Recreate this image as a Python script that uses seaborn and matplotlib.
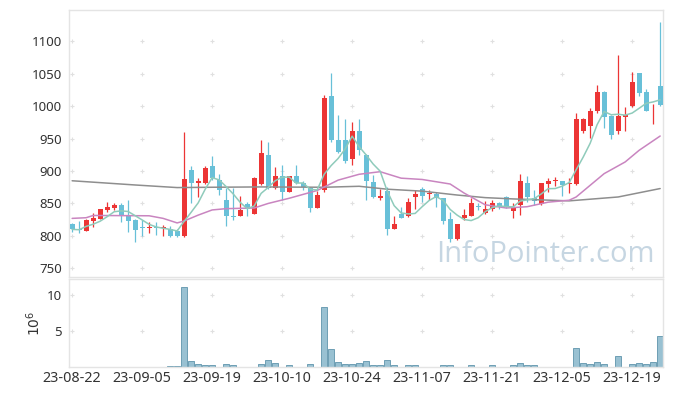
import numpy as np
import pandas as pd
import matplotlib
matplotlib.use("Agg")
import matplotlib.pyplot as plt
import seaborn as sns

# ---------------- data ----------------
opens = [818, 811, 808, 823, 826, 840, 843, 847, 832, 824,
         813, 812, 813, 812, 811, 808, 800, 901, 882, 882,
         907, 886, 856, 831, 831, 849, 834, 880, 925, 874,
         892, 868, 892, 881, 874, 843, 870, 1015, 948, 948,
         919, 962, 925, 883, 858, 869, 811, 834, 830, 860,
         872, 864, 865, 858, 826, 795, 827, 831, 846, 835,
         841, 850, 860, 839, 847, 881, 858, 849, 880, 884,
         884, 880, 880, 961, 970, 992, 1022, 985, 961, 984,
         1001, 1051, 1022, 995, 1031]
highs = [820, 823, 826, 836, 842, 852, 851, 850, 855, 826,
         824, 821, 821, 817, 816, 810, 960, 908, 889, 907,
         923, 895, 874, 874, 861, 853, 891, 948, 945, 906,
         910, 893, 910, 885, 876, 869, 1018, 1051, 986, 981,
         975, 980, 926, 894, 873, 876, 830, 844, 858, 871,
         875, 871, 868, 859, 837, 818, 841, 858, 850, 854,
         856, 852, 861, 850, 895, 892, 871, 882, 889, 891,
         885, 889, 989, 982, 997, 1033, 1023, 986, 1079, 999,
         1052, 1051, 1027, 1004, 1130]
lows = [806, 804, 807, 814, 826, 837, 840, 821, 806, 790,
        800, 804, 801, 800, 799, 798, 799, 851, 860, 880,
        886, 863, 815, 825, 830, 831, 833, 878, 872, 872,
        855, 867, 880, 870, 837, 843, 868, 945, 928, 913,
        910, 925, 855, 858, 856, 801, 810, 827, 829, 842,
        853, 855, 844, 818, 791, 794, 824, 830, 840, 833,
        839, 842, 843, 827, 832, 853, 847, 848, 868, 877,
        861, 866, 879, 959, 951, 990, 966, 950, 957, 962,
        999, 1015, 992, 972, 1000]
closes = [810, 809, 825, 828, 841, 845, 847, 832, 823, 809,
          812, 813, 812, 813, 800, 800, 887, 882, 885, 905,
          890, 870, 830, 829, 840, 841, 890, 928, 874, 892,
          868, 892, 881, 875, 843, 863, 1013, 948, 930, 916,
          962, 932, 884, 860, 861, 810, 818, 828, 852, 865,
          862, 866, 858, 823, 795, 818, 832, 850, 845, 841,
          850, 845, 845, 843, 885, 860, 854, 881, 884, 886,
          878, 882, 980, 981, 993, 1022, 983, 955, 985, 986,
          1038, 1020, 993, 996, 1002]
volume_m = [0.05, 0.1, 0.1, 0.1, 0.1, 0.1, 0.03, 0.1, 0.1, 0.1,
            0.1, 0.03, 0.1, 0.03, 0.2, 0.2, 11.1, 0.87, 0.4, 0.28,
            0.28, 0.1, 0.4, 0.28, 0.1, 0.1, 0.1, 0.4, 0.96, 0.55,
            0.1, 0.28, 0.1, 0.1, 0.4, 0.1, 8.3, 2.5, 0.7, 0.4,
            0.4, 0.55, 0.87, 0.28, 0.28, 0.96, 0.28, 0.1, 0.28, 0.28,
            0.05, 0.05, 0.05, 0.28, 0.28, 0.05, 0.05, 0.28, 0.05, 0.05,
            0.28, 0.05, 0.05, 0.28, 0.55, 0.28, 0.28, 0.05, 0.05, 0.05,
            0.05, 0.05, 2.6, 0.55, 0.4, 0.7, 0.4, 0.05, 1.5, 0.05,
            0.4, 0.55, 0.4, 0.7, 4.3]

# moving averages (candle index, value)
ma20_idx = [0, 2, 3, 11, 13, 15, 16, 18, 20, 22, 26, 28, 31, 35, 38, 41, 44,
            47, 50, 54, 56, 59, 62, 65, 68, 71, 72, 74, 76, 79, 81, 84]
ma20_val = [827, 828, 831.5, 831, 827, 820, 823, 832, 840, 842, 843, 850, 858,
            870, 886, 895, 899, 889, 887, 880, 866, 848, 843, 845, 852, 855,
            860, 878, 896, 914, 932, 954]
ma120_idx = [0, 9, 15, 20, 27, 36, 41, 45, 50, 55, 59, 63, 71, 78, 84]
ma120_val = [885, 878.5, 874.5, 875, 875.5, 875, 876.5, 872, 869, 863, 859,
             857, 854, 860, 873]

tick_labels = ['23-08-22', '23-09-05', '23-09-19', '23-10-10', '23-10-24',
               '23-11-07', '23-11-21', '23-12-05', '23-12-19']
price_ticks = [750, 800, 850, 900, 950, 1000, 1050, 1100]
vol_ticks = [5, 10]

# ---------------- style ----------------
sns.set_theme(style="white")
plt.rcParams['font.family'] = ['Noto Sans', 'DejaVu Sans']

UP = '#EC3535'
DOWN = '#68C0D8'
GRID = '#e0e0e0'
SPINE = '#e4e4e4'
TXT = '#333333'

n = len(closes)
idx = np.arange(n)
df = pd.DataFrame({'i': idx, 'open': opens, 'high': highs, 'low': lows,
                   'close': closes, 'vol': volume_m})
df['ma5'] = df['close'].rolling(5, min_periods=1).mean()
up = df['close'] >= df['open']
colors = np.where(up, UP, DOWN)

fig = plt.figure(figsize=(6.73, 3.96), dpi=100)
ax1 = fig.add_axes([0.1025, 0.3005, 0.8831, 0.6742])
ax2 = fig.add_axes([0.1025, 0.0725, 0.8831, 0.2242])

xlim = (-0.45, 84.45)

# grid crosses
gx = np.arange(0, n, 10)
for ax, ys in ((ax1, price_ticks), (ax2, vol_ticks)):
    X, Y = np.meshgrid(gx, ys)
    ax.scatter(X.ravel(), Y.ravel(), marker='+', s=11, color=GRID,
               linewidths=0.8, zorder=0)

# ---- price panel ----
body_lo = np.minimum(df['open'], df['close'])
body_h = np.maximum((df['close'] - df['open']).abs(), 1.3)
ax1.vlines(df['i'], df['low'], df['high'], colors=colors, lw=0.9, zorder=2)
ax1.bar(df['i'], body_h, bottom=body_lo, width=0.7, color=colors,
        linewidth=0, zorder=3)

sns.lineplot(x=ma120_idx, y=ma120_val, ax=ax1, color='#8e8e8e', lw=1.1,
             zorder=4)
sns.lineplot(x=ma20_idx, y=ma20_val, ax=ax1, color='#C985C0', lw=1.1,
             zorder=4)
sns.lineplot(x=df['i'], y=df['ma5'], ax=ax1, color='#8FCBBB', lw=1.1,
             zorder=4)

ax1.set_xlim(*xlim)
ax1.set_ylim(736.6, 1148.3)
ax1.set_yticks(price_ticks)
ax1.set_xticks([])
ax1.set_xlabel('')
ax1.set_ylabel('')
ax1.text(0.986, 0.085, 'InfoPointer.com', transform=ax1.transAxes,
         ha='right', va='center', fontsize=21, color='#c6d6e2',
         family=['Open Sans', 'DejaVu Sans'], zorder=1)

# ---- volume panel ----
sns.barplot(x=df['i'], y=df['vol'], ax=ax2, color='#99C1D2',
            edgecolor='#6E9FB4', linewidth=0.7, width=0.92, saturation=1,
            zorder=2)
ax2.set_xlim(*xlim)
ax2.set_ylim(0, 12.2)
ax2.set_yticks(vol_ticks)
ax2.set_xticks(gx[:len(tick_labels)])
ax2.set_xticklabels(tick_labels)
ax2.set_xlabel('')
ax2.set_ylabel('$10^6$', fontsize=10, color=TXT, labelpad=2)

for ax in (ax1, ax2):
    ax.tick_params(length=0, labelsize=9.5, labelcolor=TXT, pad=5)
    for s in ax.spines.values():
        s.set_color(SPINE)
        s.set_linewidth(1)
    ax.set_facecolor('white')
ax2.tick_params(axis='x', pad=3, labelsize=10.3)

fig.savefig('out.png', dpi=100)
